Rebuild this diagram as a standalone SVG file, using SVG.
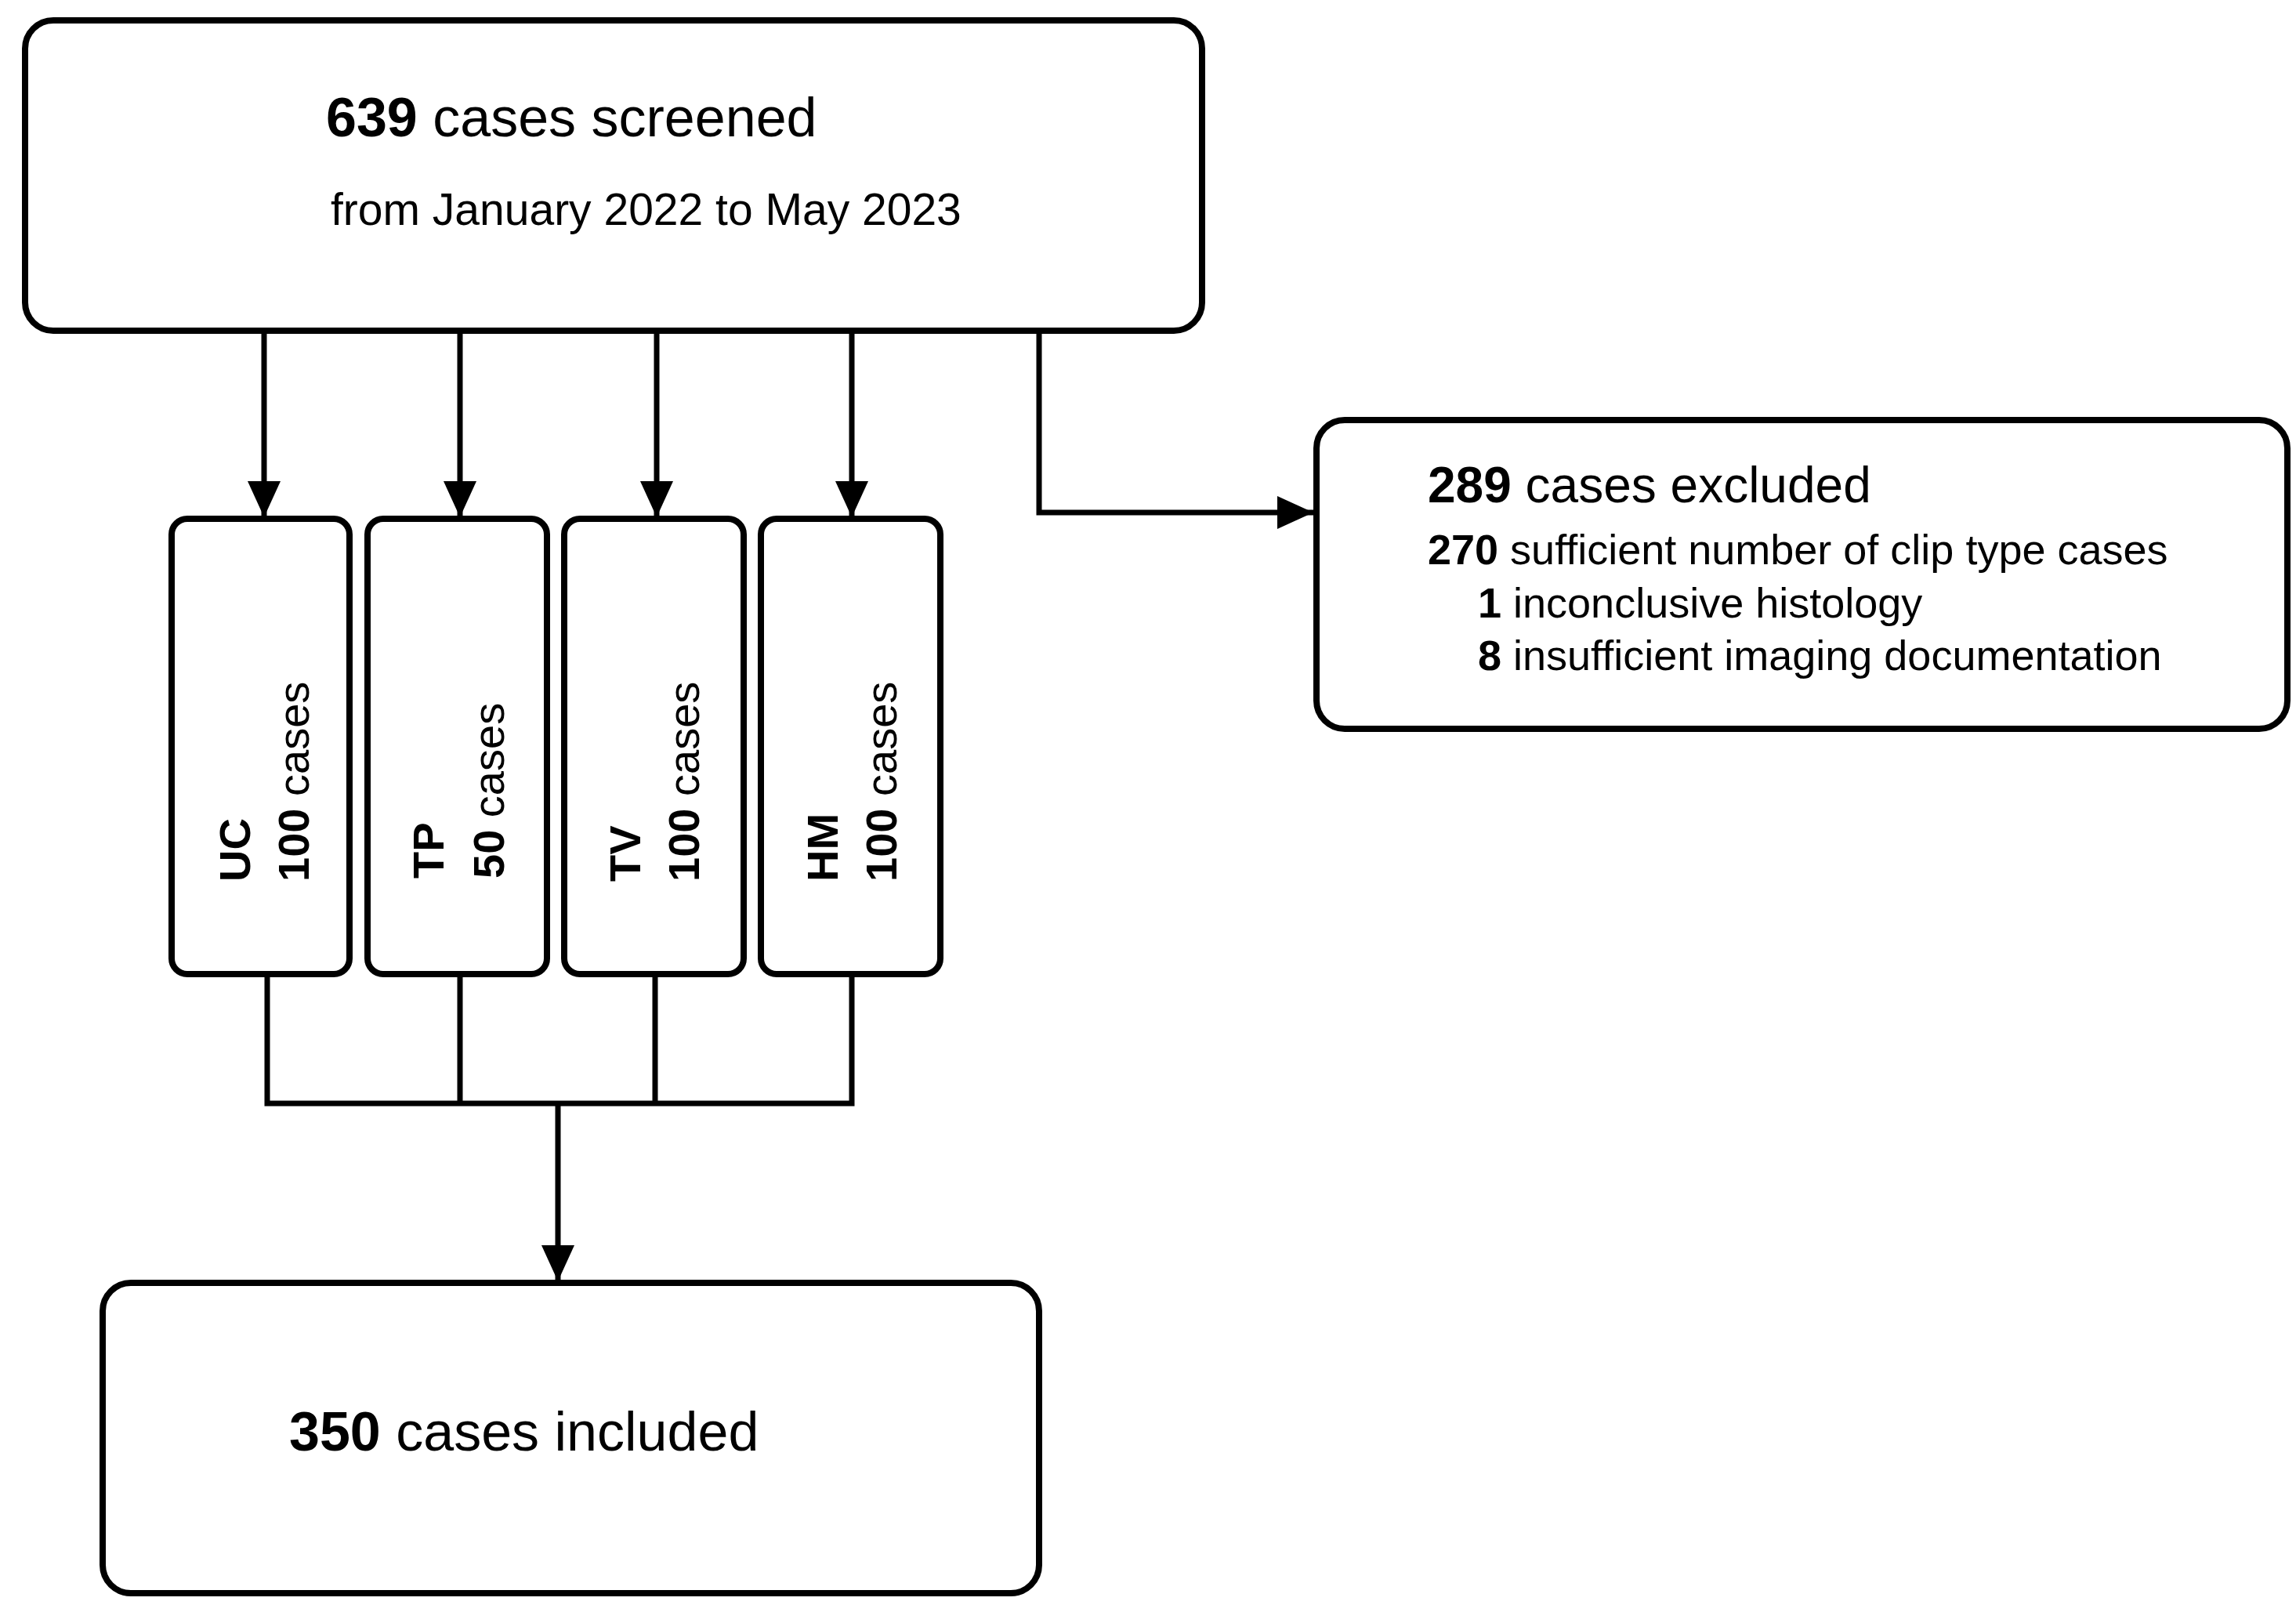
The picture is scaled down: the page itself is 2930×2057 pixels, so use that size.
<svg xmlns="http://www.w3.org/2000/svg" width="2930" height="2057" viewBox="0 0 2930 2057">
<defs>
<marker id="ah" markerUnits="userSpaceOnUse" markerWidth="46" markerHeight="42" refX="46" refY="21" orient="auto"><path d="M0,0 L46,21 L0,42 Z" fill="#000"/></marker>
<style>
.box{fill:#fff;stroke:#000;stroke-width:8}
.ln{fill:none;stroke:#000;stroke-width:7}
text{font-family:"Liberation Sans",Arial,sans-serif;fill:#000}
.b{font-weight:bold}
</style>
</defs>
<rect width="2930" height="2057" fill="#fff"/>
<g id="connectors">
<line class="ln" x1="337" y1="422" x2="337" y2="660" marker-end="url(#ah)"/>
<line class="ln" x1="587" y1="422" x2="587" y2="660" marker-end="url(#ah)"/>
<line class="ln" x1="838" y1="422" x2="838" y2="660" marker-end="url(#ah)"/>
<line class="ln" x1="1087" y1="422" x2="1087" y2="660" marker-end="url(#ah)"/>
<polyline class="ln" points="1326,422 1326,654 1676,654" marker-end="url(#ah)"/>
<polyline class="ln" points="341,1243 341,1408 1087,1408 1087,1243"/>
<line class="ln" x1="587" y1="1243" x2="587" y2="1408"/>
<line class="ln" x1="836" y1="1243" x2="836" y2="1408"/>
<line class="ln" x1="712" y1="1408" x2="712" y2="1635" marker-end="url(#ah)"/>
</g>
<g id="screened">
<rect class="box" x="32" y="26" width="1502" height="396" rx="36"/>
<text x="416" y="174" font-size="70"><tspan class="b">639</tspan> cases screened</text>
<text x="422" y="287" font-size="57">from January 2022 to May 2023</text>
</g>
<g id="excluded">
<rect class="box" x="1680" y="536" width="1239" height="394" rx="36"/>
<text x="1822" y="641" font-size="64"><tspan class="b">289</tspan> cases excluded</text>
<text x="1822" y="720" font-size="54"><tspan class="b">270</tspan> sufficient number of clip type cases</text>
<text x="1886" y="788" font-size="54"><tspan class="b">1</tspan> inconclusive histology</text>
<text x="1886" y="855" font-size="54"><tspan class="b">8</tspan> insufficient imaging documentation</text>
</g>
<g id="uc">
<rect class="box" x="219" y="662" width="227" height="581" rx="20"/>
<text transform="translate(319,1125) rotate(-90)" font-size="56" class="b">UC</text>
<text transform="translate(394,1125) rotate(-90)" font-size="56"><tspan class="b">100</tspan> cases</text>
</g>
<g id="tp">
<rect class="box" x="469" y="662" width="229" height="581" rx="20"/>
<text transform="translate(566,1121) rotate(-90)" font-size="56" class="b">TP</text>
<text transform="translate(643,1121) rotate(-90)" font-size="56"><tspan class="b">50</tspan> cases</text>
</g>
<g id="tv">
<rect class="box" x="720" y="662" width="229" height="581" rx="20"/>
<text transform="translate(817,1125) rotate(-90)" font-size="56" class="b">TV</text>
<text transform="translate(892,1125) rotate(-90)" font-size="56"><tspan class="b">100</tspan> cases</text>
</g>
<g id="hm">
<rect class="box" x="971" y="662" width="229" height="581" rx="20"/>
<text transform="translate(1069,1125) rotate(-90)" font-size="56" class="b">HM</text>
<text transform="translate(1144,1125) rotate(-90)" font-size="56"><tspan class="b">100</tspan> cases</text>
</g>
<g id="included">
<rect class="box" x="131" y="1637" width="1195" height="396" rx="36"/>
<text x="369" y="1851" font-size="70"><tspan class="b">350</tspan> cases included</text>
</g>
</svg>
